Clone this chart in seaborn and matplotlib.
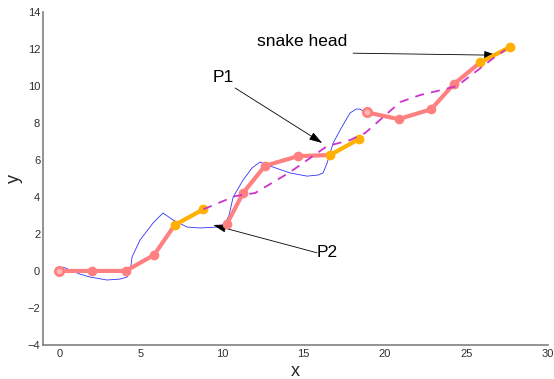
import matplotlib
matplotlib.use("Agg")
import matplotlib.pyplot as plt
import seaborn as sns

# ---- data ----
snake_x = [0.0, 2.03, 4.08, 5.82, 7.09, 8.85,
           10.29, 11.29, 12.64, 14.67, 16.64, 18.40,
           18.90, 20.85, 22.84, 24.22, 25.86, 27.70]
snake_y = [0.0, 0.0, 0.0, 0.86, 2.48, 3.33,
           2.53, 4.21, 5.68, 6.20, 6.26, 7.12,
           8.56, 8.20, 8.73, 10.08, 11.26, 12.10]
hollow_idx = [0, 12]

blue_x = [0.0, 0.23, 0.66, 1.27, 1.89, 2.93, 3.73, 4.16, 4.35, 4.47, 4.96, 5.76,
          6.37, 6.99, 7.85, 8.65, 9.69, 10.18, 10.43, 10.68, 11.29, 11.84, 12.33,
          13.13, 14.18, 15.22, 15.90, 16.20, 16.45, 16.82, 17.25, 17.86, 18.23,
          18.48, 18.66, 18.90]
blue_y = [0.0, 0.21, 0.05, -0.17, -0.33, -0.49, -0.44, -0.33, -0.06, 0.75, 1.67, 2.59,
          3.13, 2.75, 2.37, 2.32, 2.37, 2.53, 3.02, 3.99, 4.91, 5.56, 5.88,
          5.61, 5.29, 5.12, 5.18, 5.29, 5.83, 6.90, 7.61, 8.53, 8.74,
          8.74, 8.63, 8.56]

dash_x = [8.85, 10.80, 12.03, 14.18, 16.45, 17.87, 18.79, 20.94, 22.17, 23.70, 24.44, 26.90, 27.40]
dash_y = [3.33, 4.04, 4.21, 5.34, 6.74, 7.07, 7.45, 9.12, 9.50, 9.82, 9.99, 11.65, 11.93]

x_ticks = [0, 5, 10, 15, 20, 25, 30]
y_ticks = [-4, -2, 0, 2, 4, 6, 8, 10, 12, 14]

annotations = [
    # label, text position, arrow tail, arrow tip
    ("snake head", (14.92, 12.41), (18.05, 11.76), (26.90, 11.65)),
    ("P1", (10.06, 10.47), (10.80, 9.88), (16.15, 6.91)),
    ("P2", (16.46, 0.97), (15.83, 0.98), (9.45, 2.48)),
]

PINK = "#FF8080"
ORANGE = "#FFB000"
MAGENTA = "#CC33CC"
BLUE = "#3333FF"

sns.set_style("white")
plt.rcParams["font.family"] = ["Liberation Sans", "DejaVu Sans"]

fig = plt.figure(figsize=(5.54, 3.79), dpi=100)
ax = fig.add_axes([0.0776, 0.0897, 0.911, 0.8794])

# blue thin curve
sns.lineplot(x=blue_x, y=blue_y, sort=False, estimator=None, ax=ax,
             color=BLUE, lw=0.6, zorder=2)

# snake chunks
n = 6
for c in range(len(snake_x) // n):
    xs = snake_x[c * n:(c + 1) * n]
    ys = snake_y[c * n:(c + 1) * n]
    sns.lineplot(x=xs[:5], y=ys[:5], sort=False, estimator=None, ax=ax,
                 color=PINK, lw=3.0, zorder=3)
    sns.lineplot(x=xs[4:], y=ys[4:], sort=False, estimator=None, ax=ax,
                 color=ORANGE, lw=3.0, zorder=4)
    for k in range(4):
        i = c * n + k
        if i in hollow_idx:
            ax.plot(snake_x[i], snake_y[i], "o", mec=PINK, mfc="#FFB8B8",
                    mew=2.0, ms=6, zorder=5)
        else:
            ax.plot(snake_x[i], snake_y[i], "o", color=PINK, ms=6, zorder=5)
    ax.plot(xs[4:], ys[4:], "o", color=ORANGE, ms=6, zorder=6)

# dashed magenta path
sns.lineplot(x=dash_x, y=dash_y, sort=False, estimator=None, ax=ax,
             color=MAGENTA, lw=1.3, zorder=7)
ax.lines[-1].set_dashes([5, 4])

for label, tpos, tail, tip in annotations:
    ax.text(tpos[0], tpos[1], label, fontsize=12.5, ha="center", va="center", color="black")
    ax.annotate("", xy=tip, xytext=tail,
                arrowprops=dict(arrowstyle="-|>,head_length=0.8,head_width=0.25",
                                color="black", lw=0.6, shrinkA=0, shrinkB=0))

ax.set_xlim(-1, 30)
ax.set_ylim(-4, 14)
ax.set_xticks(x_ticks)
ax.set_yticks(y_ticks)
ax.set_xlabel("x", fontsize=13, labelpad=3)
ax.set_ylabel("y", fontsize=13, labelpad=3)
for s in ["top", "right"]:
    ax.spines[s].set_visible(False)
for s in ["left", "bottom"]:
    ax.spines[s].set_color("#808080")
    ax.spines[s].set_linewidth(1.2)
ax.tick_params(direction="in", length=4, width=0.8, color="#606060",
               labelsize=8, labelcolor="#303030", pad=3)
ax.tick_params(axis="y", pad=2)
if ax.get_legend():
    ax.get_legend().remove()

fig.savefig("out.png", dpi=100)
